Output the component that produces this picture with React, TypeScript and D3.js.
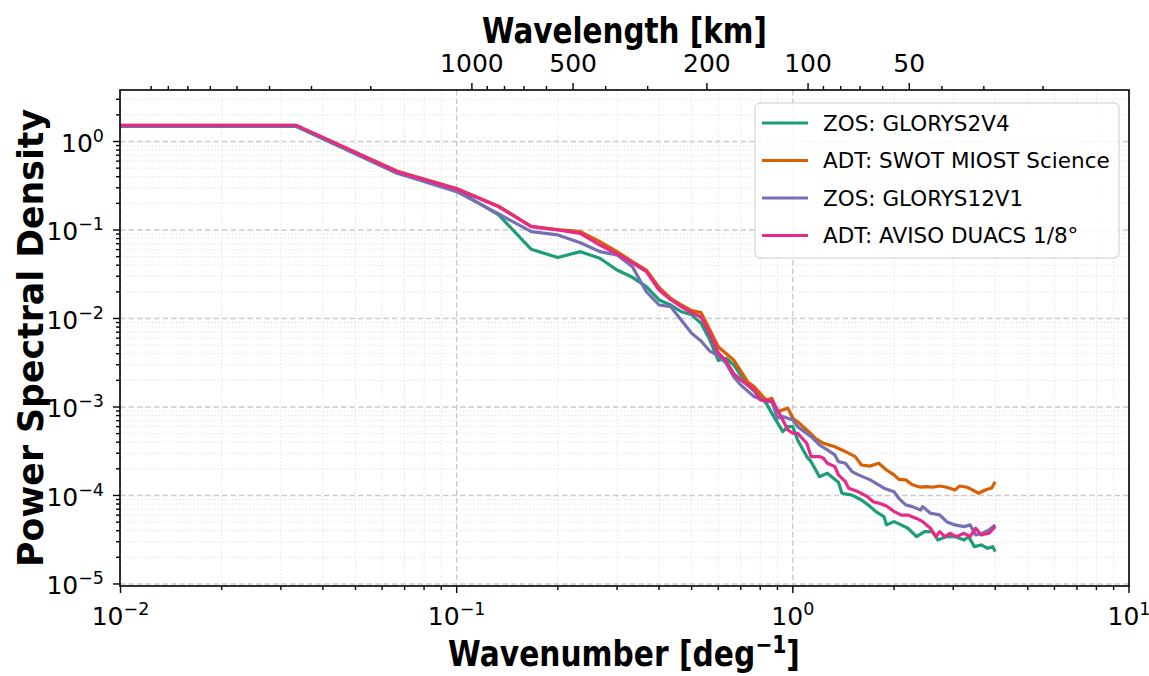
import React, { useLayoutEffect, useRef, useState } from 'react';
import * as d3 from 'd3';

// ---------- data ----------
// wavenumber index n (wavenumber k = n * DK, deg^-1)
const DK = 1 / 30;

const glorys2v4N = [0.3,1,2,3,4,5,6,7,8,9,10,11,12,13,14,15,16,17,18,19,20,22,24,25,26,28,29,30,31,33,34,36,38,41,42,45,48,51,53,56,57,60,63,66,70,74,78,81,86,91,97,100,104,109,114,118,120];
const glorys2v4Psd = [1.48,1.48,0.437,0.283,0.148,0.0605,0.0488,0.0569,0.0479,0.0353,0.0292,0.0229,0.0162,0.0142,0.0119,0.011,0.00883,0.00571,0.00335,0.00355,0.00299,0.00177,0.00131,0.0011,0.000847,0.000526,0.0006,0.0006,0.000424,0.000275,0.000241,0.000163,0.000178,0.000141,0.000106,0.000101,8.89e-5,7.48e-5,6.56e-5,5.77e-5,4.65e-5,5.06e-5,4.65e-5,4.26e-5,3.43e-5,3.9e-5,3.9e-5,3.14e-5,3.43e-5,3.43e-5,3.14e-5,3.43e-5,2.64e-5,2.76e-5,2.53e-5,2.64e-5,2.32e-5];

const miostN = [0.3,1,2,3,4,5,6,7,8,9,10,11,12,13,14,15,16,17,18,20,22,23,25,26,27,29,30,31,33,35,37,40,42,43,46,48,51,54,57,60,62,65,68,72,75,78,82,86,91,94,99,103,107,113,117,120];
const miostPsd = [1.52,1.52,0.462,0.295,0.186,0.11,0.101,0.0957,0.0738,0.0569,0.0439,0.0353,0.0225,0.0169,0.0142,0.01227,0.01164,0.00741,0.00479,0.0034,0.00193,0.0017,0.0012,0.00125,0.000885,0.000966,0.000745,0.000682,0.00055,0.000443,0.000389,0.000356,0.000327,0.000313,0.000275,0.000221,0.000215,0.000231,0.000194,0.000171,0.000152,0.00015,0.000132,0.000124,0.000126,0.000124,0.000128,0.000124,0.000115,0.000128,0.000124,0.000115,0.000106,0.000117,0.000121,0.000143];

const glorys12v1N = [0.3,1,2,3,4,5,6,7,8,9,10,11,12,13,15,16,17,18,19,20,21,23,25,26,27,28,30,31,34,36,38,40,41,43,45,47,51,52,56,60,62,65,68,72,73,77,82,86,91,97,101,105,110,115,120];
const glorys12v1Psd = [1.5,1.5,0.437,0.271,0.152,0.0957,0.0879,0.0719,0.0569,0.0522,0.0385,0.0201,0.0142,0.0136,0.0068,0.00556,0.00427,0.0038,0.00311,0.0022,0.00177,0.00131,0.00115,0.00115,0.000745,0.000778,0.000713,0.0006,0.000462,0.000372,0.000327,0.000287,0.000241,0.000231,0.000186,0.000171,0.00015,0.000143,0.000121,0.00011,9.29e-5,7.82e-5,7.48e-5,6.85e-5,7.48e-5,6.3e-5,6.03e-5,5.06e-5,4.65e-5,4.45e-5,4.65e-5,3.58e-5,3.74e-5,4.07e-5,4.65e-5];

const duacsN = [0.3,1,2,3,4,5,6,7,8,9,10,11,12,13,14,15,16,17,18,19,20,21,22,23,24,26,27,28,29,30,31,33,34,36,37,38,40,41,43,44,47,50,52,54,57,60,63,66,70,73,77,80,82,85,88,92,97,101,105,109,115,120];
const duacsPsd = [1.52,1.52,0.456,0.29,0.183,0.109,0.1,0.0916,0.0676,0.0537,0.0424,0.0338,0.021,0.0163,0.0135,0.01164,0.0104,0.0066,0.0041,0.00331,0.0024,0.00202,0.00177,0.00156,0.0012,0.00117,0.000925,0.000713,0.00055,0.000505,0.000505,0.000389,0.000275,0.000275,0.000263,0.000231,0.000212,0.000171,0.000143,0.000121,0.00011,9.7e-5,8.5e-5,8.2e-5,7.6e-5,6.6e-5,6.0e-5,6.0e-5,5.5e-5,5.06e-5,4.26e-5,3.43e-5,3.9e-5,3.43e-5,3.74e-5,3.43e-5,3.74e-5,3.43e-5,4.26e-5,3.58e-5,3.74e-5,4.45e-5];

const seriesNames = ['ZOS: GLORYS2V4', 'ADT: SWOT MIOST Science', 'ZOS: GLORYS12V1', 'ADT: AVISO DUACS 1/8°'];
const seriesColors = ['#1b9e77', '#d95f02', '#7570b3', '#e7298a'];
const seriesN = [glorys2v4N, miostN, glorys12v1N, duacsN];
const seriesPsd = [glorys2v4Psd, miostPsd, glorys12v1Psd, duacsPsd];

const xMajor = [0.01, 0.1, 1, 10];
const xMajorExp = ['−2', '−1', '0', '1'];
const yMajor = [1, 0.1, 0.01, 0.001, 0.0001, 0.00001];
const yMajorExp = ['0', '−1', '−2', '−3', '−4', '−5'];
const wlMajor = [1000, 500, 200, 100, 50];
const wlMinor = [9000, 8000, 7000, 6000, 5000, 4000, 3000, 2000, 900, 800, 700, 600, 400, 300, 90, 80, 70, 60, 40, 30, 20];
const KM_PER_DEG = 111;

// ---------- layout ----------
const W = 1149, H = 676;
const L = 120, R = 1129, T = 90, B = 586;
const FONT = 'DejaVu Sans, sans-serif';

const xScale = d3.scaleLog().domain([0.01, 10]).range([L + 0.5, R]);
const yScale = d3.scaleLog().domain([Math.pow(10, -5.023), Math.pow(10, 0.582)]).range([B, T]);

const xMinor: number[] = [];
[0.01, 0.1, 1].forEach(d => { for (let m = 2; m <= 9; m++) xMinor.push(d * m); });
const yMinor: number[] = [];
[1e-6, 1e-5, 1e-4, 1e-3, 1e-2, 0.1, 1].forEach(d => {
  for (let m = 2; m <= 9; m++) {
    const v = d * m;
    const [lo, hi] = yScale.domain();
    if (v > lo && v < hi) yMinor.push(v);
  }
});

function FitText(props: { x: number; y: number; width: number; rotate?: boolean; fontSize: number; children: React.ReactNode }) {
  const ref = useRef<SVGTextElement>(null);
  const [s, setS] = useState(1);
  useLayoutEffect(() => {
    if (ref.current) {
      const w = ref.current.getBBox().width;
      if (w > 0) setS(props.width / w);
    }
  }, []);
  const tr = props.rotate
    ? `translate(${props.x},${props.y}) rotate(-90) scale(${s},1)`
    : `translate(${props.x},${props.y}) scale(${s},1)`;
  return (
    <text ref={ref} transform={tr} textAnchor="middle" fontFamily={FONT} fontWeight="bold" fontSize={props.fontSize} fill="#000">
      {props.children}
    </text>
  );
}

export default function App() {
  const line = d3.line<[number, number]>().x(d => xScale(d[0])).y(d => yScale(d[1]));
  const paths = seriesN.map((ns, i) => line(ns.map((n, j) => [n * DK, seriesPsd[i][j]] as [number, number])) || '');

  const tickFs = 25;
  const supFs = 17.5;

  return (
    <div style={{ position: 'absolute', left: 0, top: 0 }}>
      <svg width={W} height={H} style={{ display: 'block', background: '#fff' }}>
        <defs>
          <clipPath id="plotclip"><rect x={L} y={T} width={R - L} height={B - T} /></clipPath>
        </defs>
        <rect x={0} y={0} width={W} height={H} fill="#fff" />
        {/* minor grid */}
        <g stroke="#e3e3e3" strokeWidth={1} strokeDasharray="1.5,2">
          {xMinor.map((v, i) => <line key={'gx' + i} x1={xScale(v)} x2={xScale(v)} y1={T} y2={B} />)}
          {yMinor.map((v, i) => <line key={'gy' + i} x1={L} x2={R} y1={yScale(v)} y2={yScale(v)} />)}
        </g>
        {/* major grid */}
        <g stroke="#cbcbcb" strokeWidth={1.4} strokeDasharray="5.5,3">
          {xMajor.map((v, i) => <line key={'Gx' + i} x1={xScale(v)} x2={xScale(v)} y1={T} y2={B} />)}
          {yMajor.map((v, i) => <line key={'Gy' + i} x1={L} x2={R} y1={yScale(v)} y2={yScale(v)} />)}
        </g>
        {/* data */}
        <g clipPath="url(#plotclip)" fill="none" strokeWidth={3.2} strokeLinejoin="round" strokeLinecap="butt">
          {paths.map((p, i) => <path key={'s' + i} d={p} stroke={seriesColors[i]} />)}
        </g>
        {/* spines */}
        <rect x={L} y={T} width={R - L} height={B - T} fill="none" stroke="#000" strokeWidth={1.6} />
        {/* ticks */}
        <g stroke="#000" strokeWidth={1.4}>
          {xMajor.map((v, i) => <line key={'bt' + i} x1={xScale(v)} x2={xScale(v)} y1={B} y2={B + 7} />)}
          {xMinor.map((v, i) => <line key={'bm' + i} x1={xScale(v)} x2={xScale(v)} y1={B} y2={B + 4} />)}
          {yMajor.map((v, i) => <line key={'lt' + i} x1={L - 7} x2={L} y1={yScale(v)} y2={yScale(v)} />)}
          {yMinor.map((v, i) => <line key={'lm' + i} x1={L - 4} x2={L} y1={yScale(v)} y2={yScale(v)} />)}
          {wlMajor.map((v, i) => <line key={'tt' + i} x1={xScale(KM_PER_DEG / v)} x2={xScale(KM_PER_DEG / v)} y1={T} y2={T - 7} />)}
          {wlMinor.map((v, i) => <line key={'tm' + i} x1={xScale(KM_PER_DEG / v)} x2={xScale(KM_PER_DEG / v)} y1={T} y2={T - 4} />)}
        </g>
        {/* tick labels */}
        <g fontFamily={FONT} fontSize={tickFs} fill="#000">
          {xMajor.map((v, i) => (
            <text key={'bl' + i} x={xScale(v)} y={625} textAnchor="middle">
              10<tspan fontSize={supFs} dy={-10}>{xMajorExp[i]}</tspan>
            </text>
          ))}
          {yMajor.map((v, i) => (
            <text key={'ll' + i} x={104} y={yScale(v) + 10.5} textAnchor="end">
              10<tspan fontSize={supFs} dy={-10}>{yMajorExp[i]}</tspan>
            </text>
          ))}
          {wlMajor.map((v, i) => (
            <text key={'tl' + i} x={xScale(KM_PER_DEG / v)} y={72} textAnchor="middle">{String(v)}</text>
          ))}
        </g>
        {/* axis labels */}
        <FitText x={624.5} y={43} width={285} fontSize={36}>Wavelength [km]</FitText>
        <FitText x={624} y={666} width={352} fontSize={35}>
          Wavenumber [deg<tspan fontSize={24} dy={-13}>−1</tspan><tspan dy={13}>]</tspan>
        </FitText>
        <FitText x={43} y={338} width={458} fontSize={36} rotate>Power Spectral Density</FitText>
        {/* legend */}
        <rect x={755} y={103} width={364} height={155} rx={5} fill="#fff" fillOpacity={0.85} stroke="#cccccc" strokeWidth={1} />
        {seriesNames.map((name, i) => {
          const yy = 123 + i * 37.5;
          return (
            <g key={'lg' + i}>
              <line x1={762} x2={808} y1={yy} y2={yy} stroke={seriesColors[i]} strokeWidth={3.2} />
              <text x={823} y={yy + 7.5} fontFamily={FONT} fontSize={21.5} fill="#000">{name}</text>
            </g>
          );
        })}
      </svg>
    </div>
  );
}
